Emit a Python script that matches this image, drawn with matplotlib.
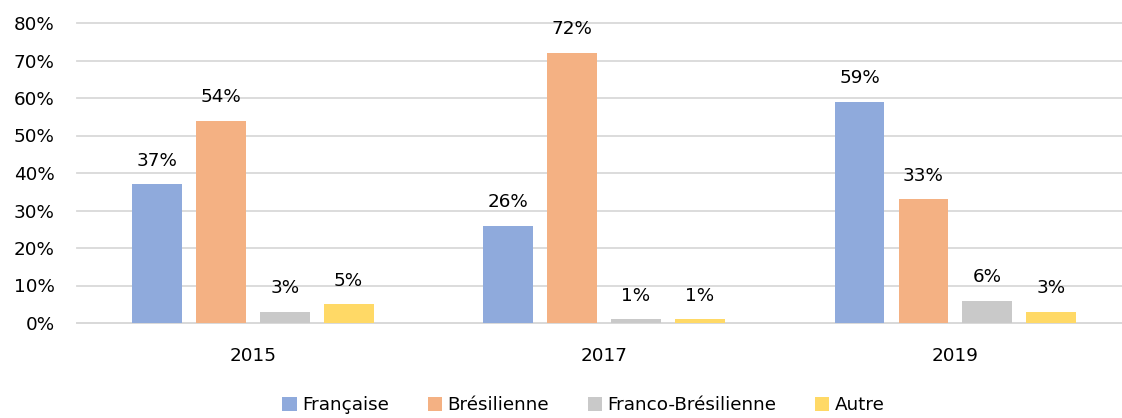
import matplotlib
matplotlib.use("Agg")
import matplotlib.pyplot as plt
import numpy as np

categories = ["2015", "2017", "2019"]
series = ["Française", "Brésilienne", "Franco-Brésilienne", "Autre"]
francaise = [37, 26, 59]
bresilienne = [54, 72, 33]
franco = [3, 1, 6]
autre = [5, 1, 3]
values = [francaise, bresilienne, franco, autre]
colors = ["#8faadc", "#f4b183", "#c9c9c9", "#ffd966"]

plt.rcParams['font.family'] = ['DejaVu Sans']
fs = 13.2
fig = plt.figure(figsize=(11.22, 4.18), dpi=100)
ax = fig.add_axes([77 / 1122, 95 / 418, 1 - 77 / 1122, 300 / 418])

x = np.arange(len(categories))
step = 0.182
width = 0.142
for i, (name, vals, c) in enumerate(zip(series, values, colors)):
    pos = x + (i - 1.5) * step
    ax.bar(pos, vals, width, color=c, label=name, zorder=3)
    for p, v in zip(pos, vals):
        ax.text(p, v + 6.3, f"{v}%", ha="center", va="center", fontsize=fs, color="#000000")

ax.set_xlim(-0.5, 2.474)
ax.set_ylim(0, 80)
ax.set_yticks(range(0, 81, 10))
ax.set_yticklabels([f"{t}%" for t in range(0, 81, 10)], fontsize=fs)
ax.set_xticks(x)
ax.set_xticklabels(categories, fontsize=fs)
ax.yaxis.grid(True, color="#d9d9d9", linewidth=1.3, zorder=0)
for gl in ax.get_ygridlines():
    gl.set_clip_on(False)
for s in ["top", "right", "left"]:
    ax.spines[s].set_visible(False)
ax.spines["bottom"].set_color("#d9d9d9")
ax.spines["bottom"].set_linewidth(1.3)
ax.tick_params(axis="y", length=0, pad=16)
ax.tick_params(axis="x", length=0, pad=17)

fig.legend(loc="center", bbox_to_anchor=(0.52, 0.031), ncol=4, frameon=False,
           fontsize=fs, handlelength=0.78, handleheight=0.78, handletextpad=0.3,
           columnspacing=2.1, borderpad=0)
fig.savefig("out.png", dpi=100)
